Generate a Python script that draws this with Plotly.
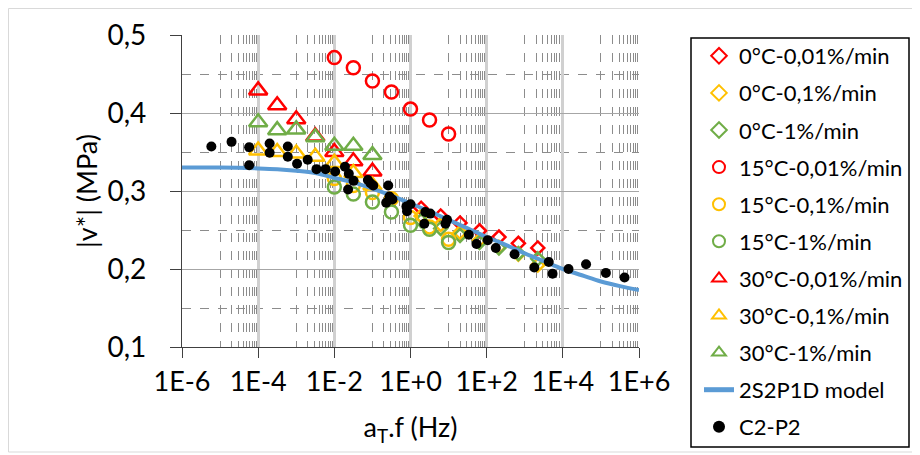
import plotly.graph_objects as go

# ---------------- data ----------------
freq_tri = [1e-4, 3.16e-4, 1e-3, 3.16e-3, 1e-2, 3.16e-2, 1e-1]
freq_circ = [1e-2, 3.16e-2, 1e-1, 3.16e-1, 1.0, 3.16, 10.0]
freq_diam = [1.9, 6.2, 20.0, 65.0, 210.0, 680.0, 2200.0]

v_0C_001 = [0.278, 0.268, 0.259, 0.249, 0.241, 0.233, 0.227]
v_0C_01 = [0.268, 0.257, 0.247, 0.237, 0.228, 0.219, 0.205]
v_0C_1 = [0.262, 0.252, 0.243, 0.234, 0.227, 0.220, 0.213]
v_15C_001 = [0.471, 0.458, 0.441, 0.427, 0.405, 0.391, 0.373]
v_15C_01 = [0.316, 0.307, 0.298, 0.290, 0.266, 0.254, 0.238]
v_15C_1 = [0.305, 0.296, 0.286, 0.273, 0.256, 0.251, 0.234]
v_30C_001 = [0.429, 0.410, 0.392, 0.370, 0.350, 0.338, 0.325]
v_30C_01 = [0.352, 0.350, 0.348, 0.344, 0.336, 0.323, 0.307]
v_30C_1 = [0.388, 0.378, 0.379, 0.369, 0.358, 0.358, 0.346]

freq_model = [1e-6, 1e-5, 1e-4, 3.16e-4, 1e-3, 3.16e-3, 1e-2, 3.16e-2, 1e-1, 3.16e-1,
              1.0, 3.16, 10.0, 31.6, 100.0, 316.0, 1e3, 3.16e3, 1e4, 3.16e4,
              1e5, 3.16e5, 1e6]
v_model = [0.330, 0.330, 0.329, 0.328, 0.326, 0.323, 0.317, 0.311, 0.303, 0.294,
           0.284, 0.274, 0.263, 0.252, 0.241, 0.231, 0.220, 0.210, 0.200, 0.192,
           0.184, 0.178, 0.173]

freq_c2p2 = [5.9e-6, 2.0e-5, 5.8e-5, 5.8e-5, 2.0e-4, 2.0e-4, 6.0e-4, 6.0e-4, 1.05e-3, 2.0e-3,
             3.4e-3, 5.9e-3, 1.05e-2, 1.9e-2, 2.4e-2, 3.2e-2, 2.3e-2, 7.6e-2, 8.9e-2, 0.105,
             0.26, 0.28, 0.335, 0.23, 0.78, 1.0, 0.81, 2.45, 3.3, 2.3,
             9.1, 8.3, 34.0, 54.0, 107.0, 174.0, 540.0, 1780.0, 4270.0, 5370.0,
             14100.0, 40700.0, 135000.0, 417000.0]
v_c2p2 = [0.357, 0.363, 0.356, 0.333, 0.361, 0.349, 0.357, 0.344, 0.335, 0.340,
          0.328, 0.328, 0.325, 0.331, 0.322, 0.313, 0.302, 0.314, 0.310, 0.307,
          0.307, 0.293, 0.289, 0.285, 0.280, 0.283, 0.274, 0.273, 0.271, 0.258,
          0.263, 0.258, 0.244, 0.232, 0.237, 0.227, 0.219, 0.202, 0.209, 0.194,
          0.200, 0.206, 0.195, 0.189]

x_tick_vals = [1e-6, 1e-4, 1e-2, 1e0, 1e2, 1e4, 1e6]
x_tick_text = ["1E-6", "1E-4", "1E-2", "1E+0", "1E+2", "1E+4", "1E+6"]
y_tick_vals = [0.1, 0.2, 0.3, 0.4, 0.5]
y_tick_text = ["0,1", "0,2", "0,3", "0,4", "0,5"]

# ---------------- styling ----------------
RED = "#FF0000"
YEL = "#FFC000"
GRN = "#70AD47"
BLUE = "#5B9BD5"
FONT = "Lato"

fig = go.Figure()

def add_marker_series(x, y, name, symbol, color, size):
    fig.add_trace(go.Scatter(
        x=x, y=y, mode="markers", name=name, legendgroup=name,
        marker=dict(symbol=symbol, size=size, color=color,
                    line=dict(color=color, width=2.5)),
    ))

add_marker_series(freq_diam, v_0C_001, "0°C-0,01%/min", "diamond-open", RED, 10)
add_marker_series(freq_diam, v_0C_01, "0°C-0,1%/min", "diamond-open", YEL, 10)
add_marker_series(freq_diam, v_0C_1, "0°C-1%/min", "diamond-open", GRN, 10)
add_marker_series(freq_circ, v_15C_001, "15°C-0,01%/min", "circle-open", RED, 13)
add_marker_series(freq_circ, v_15C_01, "15°C-0,1%/min", "circle-open", YEL, 13)
add_marker_series(freq_circ, v_15C_1, "15°C-1%/min", "circle-open", GRN, 13)
add_marker_series(freq_tri, v_30C_001, "30°C-0,01%/min", "triangle-up-open", RED, 16)
add_marker_series(freq_tri, v_30C_01, "30°C-0,1%/min", "triangle-up-open", YEL, 16)
add_marker_series(freq_tri, v_30C_1, "30°C-1%/min", "triangle-up-open", GRN, 16)

fig.add_trace(go.Scatter(
    x=freq_model, y=v_model, mode="lines", name="2S2P1D model",
    legendgroup="2S2P1D model", line=dict(color=BLUE, width=4, shape="spline"),
))
fig.add_trace(go.Scatter(
    x=freq_c2p2, y=v_c2p2, mode="markers", name="C2-P2", legendgroup="C2-P2",
    marker=dict(symbol="circle", size=10, color="#000000"),
))

minor_x = [10 ** (k + 1) * m for k in range(-6, 6, 2) for m in range(1, 10)]

# the page body adds an 8px offset; figure coordinates = screen - 8
W, H = 912, 447
L, R, T, B = 174, 281, 27, 108
pw, ph = W - L - R, H - T - B

def px(xf):
    return (xf - L) / pw

def py(yf):
    return (H - B - yf) / ph

fig.update_layout(
    width=W, height=H,
    margin=dict(l=L, r=R, t=T, b=B, autoexpand=False),
    paper_bgcolor="white", plot_bgcolor="white",
    font=dict(family=FONT, color="#000000", size=22),
    showlegend=True,
    legend=dict(
        xref="container", yref="container",
        x=691 / W, y=1 - 27 / H, xanchor="left", yanchor="top",
        bgcolor="rgba(0,0,0,0)", borderwidth=0,
        font=dict(family=FONT, size=22, color="#000000"),
        traceorder="grouped", tracegroupgap=5.5, itemsizing="constant",
    ),
    xaxis=dict(
        type="log", range=[-6, 6], automargin=False,
        tickvals=x_tick_vals, ticktext=x_tick_text,
        tickfont=dict(size=27, family=FONT),
        ticks="outside", ticklen=10, tickcolor="#404040", tickwidth=1,
        showline=True, linecolor="#404040", linewidth=1.2,
        showgrid=True, gridcolor="#D0D0D0", gridwidth=2.5,
        minor=dict(tickvals=minor_x, showgrid=True, gridcolor="#8C8C8C",
                   griddash="dash", gridwidth=1, ticks=""),
        title=dict(text="a<sub>T</sub>.f (Hz)", font=dict(size=27, family=FONT), standoff=22),
        zeroline=False,
    ),
    yaxis=dict(
        range=[0.1, 0.5], automargin=False,
        tickvals=y_tick_vals, ticktext=y_tick_text,
        tickfont=dict(size=28, family=FONT),
        ticks="outside", ticklen=11, tickcolor="#404040", tickwidth=1,
        ticklabelstandoff=18,
        showline=True, linecolor="#404040", linewidth=1.2,
        showgrid=True, gridcolor="#A6A6A6", gridwidth=1.3,
        minor=dict(tickvals=[0.15, 0.25, 0.35, 0.45], showgrid=True, gridcolor="#8C8C8C",
                   griddash="dash", gridwidth=1, ticks=""),
        title=dict(text="|v*| (MPa)", font=dict(size=27, family=FONT), standoff=2),
        zeroline=False,
    ),
    shapes=[
        dict(type="rect", xref="paper", yref="paper",
             x0=px(0.5), x1=px(905), y0=py(444), y1=py(0.5),
             line=dict(color="#D9D9D9", width=1), fillcolor="rgba(0,0,0,0)", layer="below"),
        dict(type="rect", xref="paper", yref="paper",
             x0=px(683), x1=px(901), y0=py(439), y1=py(30),
             line=dict(color="#000000", width=1.5), fillcolor="rgba(0,0,0,0)", layer="above"),
    ],
)

try:
    fig.update_layout(legend_maxheight=440)
except Exception:
    pass

fig.write_html("out.html")
